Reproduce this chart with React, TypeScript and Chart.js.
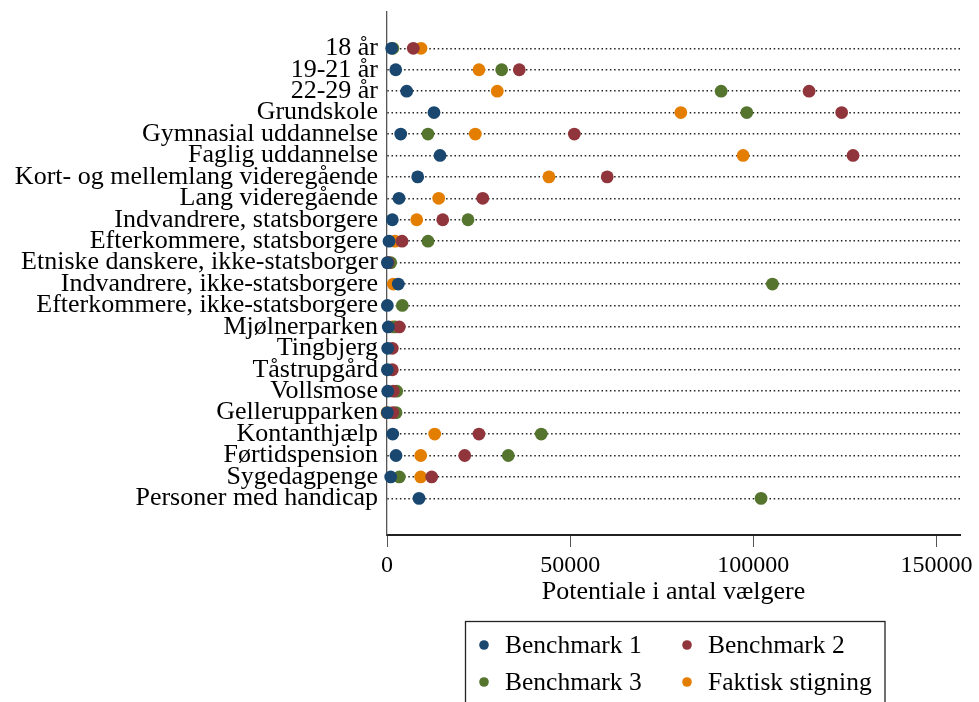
import React, { useEffect, useRef } from 'react';
import { Chart, registerables } from 'chart.js';

Chart.register(...registerables);

const categories = [
  '18 år',
  '19-21 år',
  '22-29 år',
  'Grundskole',
  'Gymnasial uddannelse',
  'Faglig uddannelse',
  'Kort- og mellemlang videregående',
  'Lang videregående',
  'Indvandrere, statsborgere',
  'Efterkommere, statsborgere',
  'Etniske danskere, ikke-statsborger',
  'Indvandrere, ikke-statsborgere',
  'Efterkommere, ikke-statsborgere',
  'Mjølnerparken',
  'Tingbjerg',
  'Tåstrupgård',
  'Vollsmose',
  'Gellerupparken',
  'Kontanthjælp',
  'Førtidspension',
  'Sygedagpenge',
  'Personer med handicap',
];

const benchmark1 = [1280, 2380, 5380, 12830, 3740, 14470, 8380, 3280, 1450, 550, 100, 3080, 100, 350, 200, 100, 200, 100, 1560, 2460, 1010, 8740];
const benchmark2 = [7180, 36100, 115200, 124100, 51130, 127200, 60100, 26130, 15210, 4100, 300, null, null, 3360, 1450, 1450, 1720, 1560, 25100, 21210, 12200, null];
const benchmark3 = [1600, 31300, 91200, 98200, 11190, null, null, null, 22110, 11190, 1000, 105200, 4180, 2200, null, null, 2650, 2460, 42100, 33100, 3360, 102100];
const faktiskStigning = [9280, 25100, 30100, 80200, 24100, 97200, 44200, 14110, 8110, 2180, 300, 1720, null, 1500, null, null, null, 0, 13020, 9200, 9200, null];

const xTickValues = [0, 50000, 100000, 150000];
const xMin = 0;
const xMax = 156400;

const seriesNames = ['Benchmark 1', 'Benchmark 2', 'Benchmark 3', 'Faktisk stigning'];
const seriesValues = [benchmark1, benchmark2, benchmark3, faktiskStigning];
const seriesColors = ['#1a476f', '#90353b', '#55752f', '#e37e00'];

const FONT = '"Liberation Serif", "Times New Roman", Times, serif';

const legendBoxPlugin = {
  id: 'legendBox',
  afterDraw(chart: any) {
    const ctx = chart.ctx;
    const bottom = chart.chartArea.bottom;
    const boxLeft = 465.5;
    const boxTop = bottom + 86.5;
    const boxWidth = 419.5;
    const boxHeight = 120;
    ctx.save();
    ctx.lineWidth = 1.3;
    ctx.strokeStyle = '#222';
    ctx.strokeRect(boxLeft, boxTop, boxWidth, boxHeight);
    const colX = [484, 687];
    const rowY = [bottom + 110, bottom + 147];
    ctx.font = `25.5px ${FONT}`;
    ctx.textBaseline = 'middle';
    ctx.textAlign = 'left';
    chart.data.datasets.forEach((ds: any, i: number) => {
      const cx = colX[i % 2];
      const cy = rowY[Math.floor(i / 2)];
      ctx.beginPath();
      ctx.fillStyle = ds.backgroundColor;
      ctx.arc(cx, cy, 4.8, 0, Math.PI * 2);
      ctx.fill();
      ctx.fillStyle = '#000';
      ctx.fillText(ds.label, cx + 21, cy + 1);
    });
    ctx.restore();
  },
};

export default function App() {
  const canvasRef = useRef<HTMLCanvasElement | null>(null);

  useEffect(() => {
    document.body.style.margin = '0';
    const canvas = canvasRef.current;
    if (!canvas) return;
    const datasets = seriesNames.map((name, s) => ({
      label: name,
      data: seriesValues[s].flatMap((v, i) => (v == null ? [] : [{ x: v, y: i }])),
      backgroundColor: seriesColors[s],
      borderColor: seriesColors[s],
      pointBackgroundColor: seriesColors[s],
      pointBorderWidth: 0,
      pointRadius: 6.4,
      pointHoverRadius: 6.4,
      showLine: false,
      clip: false as any,
    }));

    const chart = new Chart(canvas, {
      type: 'scatter',
      data: { datasets },
      options: {
        responsive: false,
        maintainAspectRatio: false,
        devicePixelRatio: 1,
        animation: false,
        events: [],
        layout: { padding: { left: 0, right: 19, top: 12, bottom: 94 } },
        plugins: {
          legend: { display: false },
          tooltip: { enabled: false },
        },
        scales: {
          x: {
            type: 'linear',
            position: 'bottom',
            min: xMin,
            max: xMax,
            afterBuildTicks: (scale: any) => {
              scale.ticks = xTickValues.map((v) => ({ value: v }));
            },
            afterFit: (scale: any) => {
              scale.height = 73;
              scale.paddingLeft = 0;
              scale.paddingRight = 0;
            },
            ticks: {
              autoSkip: false,
              maxRotation: 0,
              padding: 4,
              color: '#000',
              font: { family: FONT, size: 24 },
              callback: (v: any) => String(v),
            },
            grid: {
              drawOnChartArea: false,
              drawTicks: true,
              tickLength: 12,
              color: '#555',
              lineWidth: 1,
            },
            border: { display: true, color: '#222', width: 2 },
            title: {
              display: true,
              text: 'Potentiale i antal vælgere',
              color: '#000',
              font: { family: FONT, size: 26 },
              padding: { top: 0, bottom: 0 },
            },
          },
          y: {
            type: 'linear',
            reverse: true,
            min: -1.694,
            max: 22.71,
            afterBuildTicks: (scale: any) => {
              scale.ticks = categories.map((_, i) => ({ value: i }));
            },
            afterFit: (scale: any) => {
              scale.width = 387;
              scale.paddingTop = 0;
              scale.paddingBottom = 0;
            },
            ticks: {
              autoSkip: false,
              padding: 9,
              color: '#000',
              font: { family: FONT, size: 26 },
              callback: (_v: any, index: number) => categories[index],
            },
            grid: {
              drawTicks: false,
              color: '#222',
              lineWidth: 1.5,
            },
            border: { display: true, color: '#555', width: 1.3, dash: [1.5, 2.7] },
          },
        },
      },
      plugins: [legendBoxPlugin],
    });

    return () => {
      chart.destroy();
    };
  }, []);

  return (
    <div style={{ width: 979, height: 702 }}>
      <canvas ref={canvasRef} width={979} height={702} style={{ display: 'block' }} />
    </div>
  );
}
